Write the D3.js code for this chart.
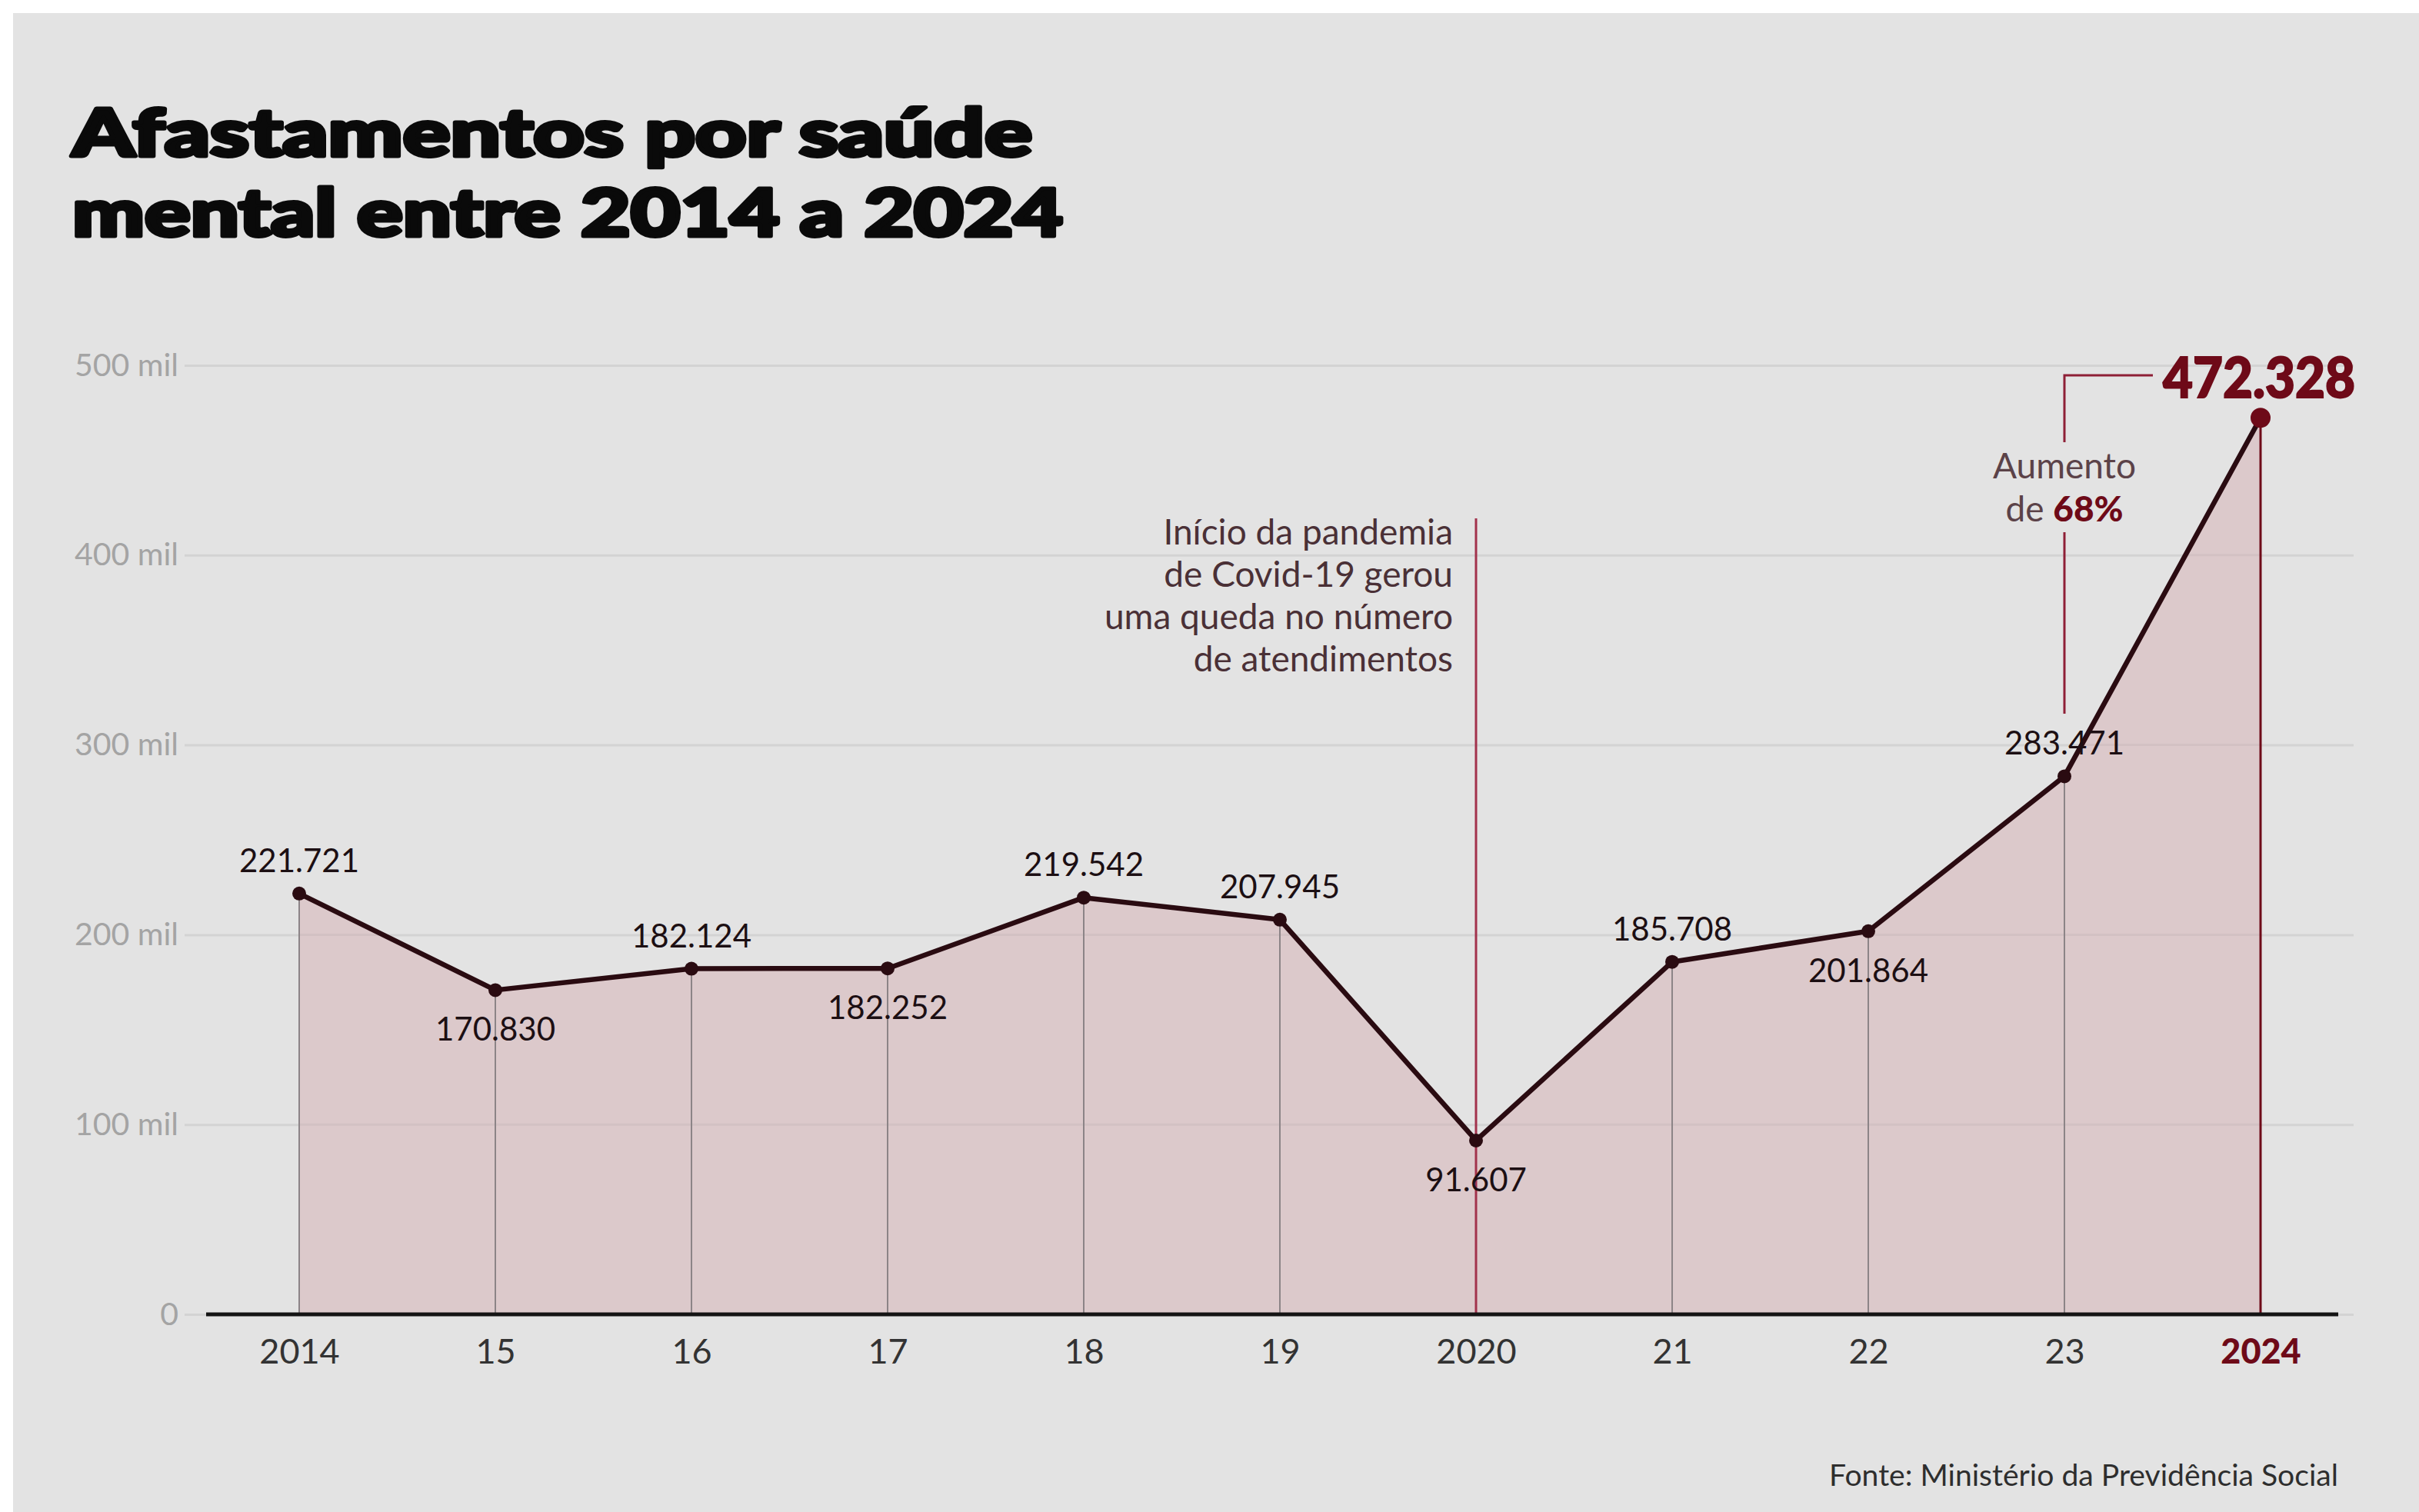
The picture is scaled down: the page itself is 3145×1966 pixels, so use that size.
<!DOCTYPE html>
<html>
<head>
<meta charset="utf-8">
<title>Afastamentos por saúde mental</title>
<script src="https://cdn.jsdelivr.net/npm/d3@7"></script>
<style>
  html, body { margin: 0; padding: 0; background: #ffffff; }
  svg { display: block; }
</style>
</head>
<body>
<script>
// data
var years = [2014, 2015, 2016, 2017, 2018, 2019, 2020, 2021, 2022, 2023, 2024];
var tickLabels = ["2014", "15", "16", "17", "18", "19", "2020", "21", "22", "23", "2024"];
var values = [221721, 170830, 182124, 182252, 219542, 207945, 91607, 185708, 201864, 283471, 472328];
var valueLabels = ["221.721", "170.830", "182.124", "182.252", "219.542", "207.945", "91.607", "185.708", "201.864", "283.471", "472.328"];
var labelSide = ["up", "down", "up", "down", "up", "up", "down", "up", "down", "up", "none"];
var yTicks = [0, 100000, 200000, 300000, 400000, 500000];
var yTickLabels = ["0", "100 mil", "200 mil", "300 mil", "400 mil", "500 mil"];
var pandemicNote = ["Início da pandemia", "de Covid-19 gerou", "uma queda no número", "de atendimentos"];

var width = 3145;
var height = 1966;

var svg = d3.select("body")
    .append("svg")
    .attr("width", width)
    .attr("height", height);

// background with the thin white edge top/left
svg.append("rect")
    .attr("x", 17).attr("y", 17)
    .attr("width", width - 17).attr("height", height - 17)
    .attr("fill", "#e3e3e3");

var x = d3.scalePoint()
    .domain(years)
    .range([389, 2939]);

var y = d3.scaleLinear()
    .domain([0, 500000])
    .range([1709, 475]);

// title
var title = svg.append("g")
    .attr("font-family", "Lato, 'Open Sans', sans-serif")
    .attr("font-weight", 900)
    .attr("font-size", 86)
    .attr("fill", "#0a0a0a")
    .attr("stroke", "#0a0a0a")
    .attr("stroke-width", 5)
    .attr("stroke-linejoin", "round");
title.append("text").attr("x", 94).attr("y", 203)
    .attr("textLength", 1248).attr("lengthAdjust", "spacingAndGlyphs")
    .text("Afastamentos por saúde");
title.append("text").attr("x", 94).attr("y", 307)
    .attr("textLength", 1288).attr("lengthAdjust", "spacingAndGlyphs")
    .text("mental entre 2014 a 2024");

// grid lines + y labels
var yAxis = d3.axisLeft(y)
    .tickValues(yTicks)
    .tickSize(-(3060 - 240))
    .tickPadding(8)
    .tickFormat(function(d, i) { return yTickLabels[i]; });

var gy = svg.append("g")
    .attr("transform", "translate(240,0)")
    .call(yAxis);
gy.select(".domain").remove();
gy.selectAll(".tick line")
    .attr("stroke", "#d3d3d3")
    .attr("stroke-width", 3);
gy.selectAll(".tick text")
    .attr("font-family", "Lato, sans-serif")
    .attr("font-size", 41)
    .attr("fill", "#a4a4a4");

// filled area under the line
var area = d3.area()
    .x(function(d, i) { return x(years[i]); })
    .y0(y(0))
    .y1(function(d) { return y(d); });

svg.append("clipPath")
    .attr("id", "areaClip")
    .append("path")
    .datum(values)
    .attr("d", area);

svg.append("path")
    .datum(values)
    .attr("d", area)
    .attr("fill", "#dcc9cb");

// faint grid lines showing through the fill
svg.append("g")
    .attr("clip-path", "url(#areaClip)")
    .selectAll("line")
    .data(yTicks.slice(1))
    .enter()
    .append("line")
    .attr("x1", x(2014)).attr("x2", x(2024))
    .attr("y1", function(d) { return y(d); })
    .attr("y2", function(d) { return y(d); })
    .attr("stroke", "#d3c1c3")
    .attr("stroke-width", 3);

// drop lines from each point
svg.append("g").selectAll("line")
    .data(values)
    .enter()
    .append("line")
    .attr("x1", function(d, i) { return x(years[i]); })
    .attr("x2", function(d, i) { return x(years[i]); })
    .attr("y1", function(d) { return y(d); })
    .attr("y2", y(0))
    .attr("stroke", function(d, i) { return years[i] == 2024 ? "#6e0a18" : "#8c8487"; })
    .attr("stroke-width", function(d, i) { return years[i] == 2024 ? 3 : 2; });

// pandemic annotation
svg.append("line")
    .attr("x1", x(2020)).attr("x2", x(2020))
    .attr("y1", 674).attr("y2", y(0))
    .attr("stroke", "#a2324c")
    .attr("stroke-width", 3);

svg.append("g")
    .attr("font-family", "Lato, sans-serif")
    .attr("font-size", 46)
    .attr("fill", "#4a3036")
    .attr("text-anchor", "end")
    .selectAll("text")
    .data(pandemicNote)
    .enter()
    .append("text")
    .attr("x", x(2020) - 30)
    .attr("y", function(d, i) { return 708 + i * 55; })
    .text(function(d) { return d; });

// increase bracket (2023 -> 2024)
var bracket = svg.append("g")
    .attr("stroke", "#8e1f36")
    .attr("stroke-width", 3)
    .attr("fill", "none");
bracket.append("path")
    .attr("d", "M" + (x(2024) - 140) + "," + 488 + "H" + x(2023) + "V" + 575);
bracket.append("line")
    .attr("x1", x(2023)).attr("x2", x(2023))
    .attr("y1", 692).attr("y2", 928);

var inc = svg.append("text")
    .attr("font-family", "Lato, sans-serif")
    .attr("font-size", 46)
    .attr("fill", "#5b4248")
    .attr("text-anchor", "middle");
inc.append("tspan").attr("x", x(2023)).attr("y", 622).text("Aumento");
inc.append("tspan").attr("x", x(2023)).attr("y", 678).text("de ");
inc.append("tspan").attr("font-weight", 900).attr("fill", "#6e0a18").text("68%");

// the line
var line = d3.line()
    .x(function(d, i) { return x(years[i]); })
    .y(function(d) { return y(d); });

svg.append("path")
    .datum(values)
    .attr("d", line)
    .attr("fill", "none")
    .attr("stroke", "#2a0b11")
    .attr("stroke-width", 6.5)
    .attr("stroke-linejoin", "round");

// baseline
svg.append("line")
    .attr("x1", 268).attr("x2", 3040)
    .attr("y1", y(0)).attr("y2", y(0))
    .attr("stroke", "#141414")
    .attr("stroke-width", 5);

// x axis labels
var xAxis = d3.axisBottom(x)
    .tickSize(0)
    .tickPadding(32)
    .tickFormat(function(d, i) { return tickLabels[i]; });

var gx = svg.append("g")
    .attr("transform", "translate(0," + y(0) + ")")
    .call(xAxis);
gx.select(".domain").remove();
gx.selectAll(".tick text")
    .attr("font-family", "Lato, sans-serif")
    .attr("font-size", 45)
    .attr("font-weight", function(d) { return d == 2024 ? 900 : 400; })
    .attr("fill", function(d) { return d == 2024 ? "#6e0a18" : "#333333"; });

// dots
svg.append("g").selectAll("circle")
    .data(values)
    .enter()
    .append("circle")
    .attr("cx", function(d, i) { return x(years[i]); })
    .attr("cy", function(d) { return y(d); })
    .attr("r", function(d, i) { return years[i] == 2024 ? 13 : 9; })
    .attr("fill", function(d, i) { return years[i] == 2024 ? "#6e0a18" : "#2a0b11"; });

// value labels
svg.append("g")
    .attr("font-family", "Lato, sans-serif")
    .attr("font-size", 42)
    .attr("fill", "#1c0f13")
    .attr("text-anchor", "middle")
    .selectAll("text")
    .data(values)
    .enter()
    .filter(function(d, i) { return labelSide[i] != "none"; })
    .append("text")
    .attr("x", function(d, i) { return x(years[i]); })
    .attr("y", function(d, i) { return labelSide[i] == "up" ? y(d) - 28 : y(d) + 66; })
    .text(function(d, i) { return valueLabels[i]; });

// 2024 highlight label
svg.append("text")
    .attr("x", 2812)
    .attr("y", 517)
    .attr("font-family", "Lato, sans-serif")
    .attr("font-weight", 900)
    .attr("font-size", 72)
    .attr("fill", "#6e0a18")
    .attr("stroke", "#6e0a18")
    .attr("stroke-width", 2)
    .attr("textLength", 250)
    .attr("lengthAdjust", "spacingAndGlyphs")
    .text(valueLabels[10]);

// source
svg.append("text")
    .attr("x", 3040)
    .attr("y", 1932)
    .attr("text-anchor", "end")
    .attr("font-family", "'Liberation Sans Narrow', Lato, sans-serif")
    .attr("font-size", 38)
    .attr("fill", "#2e2e2e")
    .attr("textLength", 662)
    .attr("lengthAdjust", "spacingAndGlyphs")
    .text("Fonte: Ministério da Previdência Social");
</script>
</body>
</html>
